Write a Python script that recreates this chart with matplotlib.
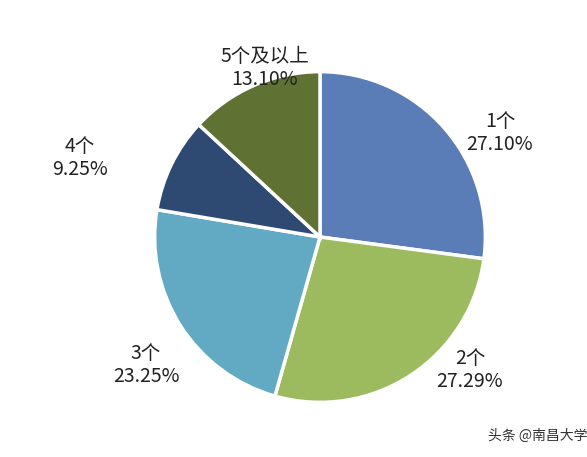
import matplotlib
matplotlib.use("Agg")
import matplotlib.pyplot as plt

plt.rcParams['font.family'] = ['Noto Sans CJK SC', 'DejaVu Sans']

categories = ['1个', '2个', '3个', '4个', '5个及以上']
values = [27.10, 27.29, 23.25, 9.25, 13.10]
colors = ['#5A7DB8', '#9BBB5E', '#62AAC4', '#2F4A72', '#5F7234']

W, H = 587, 457
fig = plt.figure(figsize=(W/100, H/100), dpi=100)
cx, cy, r = 320, 237, 167
ax = fig.add_axes([(cx-r)/W, (H-cy-r)/H, 2*r/W, 2*r/H])
ax.pie(values, colors=colors, startangle=90, counterclock=False,
       wedgeprops=dict(edgecolor='white', linewidth=2.5))
ax.set_xlim(-1.01, 1.01)
ax.set_ylim(-1.01, 1.01)
ax.set_aspect('equal')

label_pos = [(500, 133), (470, 370), (146, 365), (80, 158), (265, 68)]
for c, v, (x, y) in zip(categories, values, label_pos):
    fig.text(x/W, 1-y/H, f"{c}\n{v:.2f}%", ha='center', va='center',
             fontsize=14, color='#222222', linespacing=1.15)

fig.text(538/W, 1-436/H, '头条 @南昌大学', ha='center', va='center',
         fontsize=10, color='#333333')
fig.savefig('out.png', dpi=100)
